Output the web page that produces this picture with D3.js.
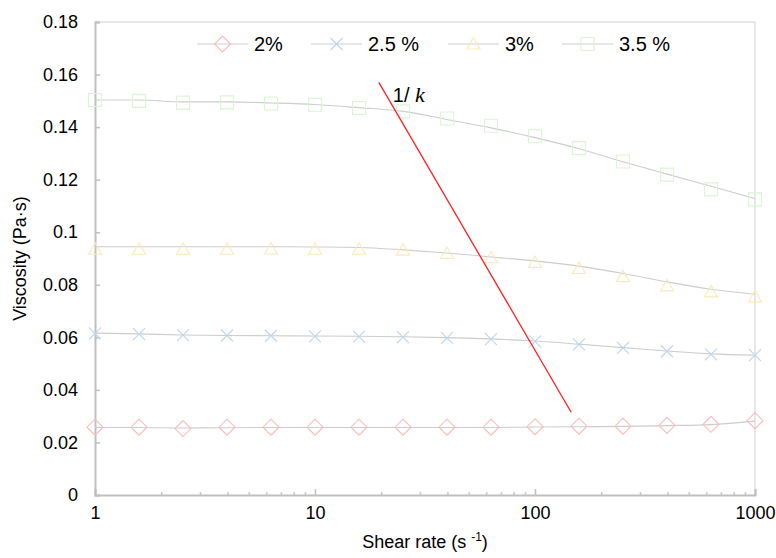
<!DOCTYPE html>
<html><head><meta charset="utf-8">
<script src="https://cdn.jsdelivr.net/npm/d3@7/dist/d3.min.js"></script>
<style>body{margin:0;background:#fff;} svg{display:block;font-family:"Liberation Sans",Arial,sans-serif;}</style>
</head><body>
<svg id="c" width="776" height="558"></svg>
<script>
const shearRate = [1,1.585,2.512,3.981,6.31,10,15.85,25.12,39.81,63.1,100,158.5,251.2,398.1,631,1000];
const seriesNames = ["2%","2.5 %","3%","3.5 %"];
const v2   = [0.0258,0.0258,0.0253,0.0258,0.0258,0.0258,0.0258,0.0258,0.0258,0.0258,0.0260,0.0262,0.0262,0.0265,0.0269,0.0283];
const v25  = [0.0615,0.0612,0.0608,0.0607,0.0606,0.0604,0.0603,0.0601,0.0598,0.0593,0.0585,0.0573,0.0560,0.0547,0.0535,0.0532];
const v3   = [0.0935,0.0935,0.0935,0.0935,0.0936,0.0935,0.0935,0.0932,0.0919,0.0903,0.0885,0.0862,0.0831,0.0796,0.0773,0.0754];
const v35  = [0.1503,0.1500,0.1493,0.1494,0.1490,0.1485,0.1473,0.1460,0.1433,0.1405,0.1365,0.1320,0.1269,0.1219,0.1163,0.1125];
const fit2  = [0.0257,0.0257,0.0255,0.0256,0.0257,0.0257,0.0257,0.0257,0.0257,0.0257,0.0259,0.0260,0.0261,0.0264,0.0268,0.0281];
const fit25 = [0.0616,0.0613,0.0609,0.0607,0.0606,0.0605,0.0604,0.0602,0.0599,0.0594,0.0586,0.0574,0.0561,0.0548,0.0537,0.0532];
const fit3  = [0.0945,0.0945,0.0945,0.0945,0.0945,0.0944,0.0942,0.0933,0.0921,0.0906,0.0891,0.0871,0.0843,0.0811,0.0783,0.0764];
const fit35 = [0.1503,0.1503,0.1496,0.1496,0.1492,0.1486,0.1474,0.1460,0.1429,0.1397,0.1360,0.1318,0.1268,0.1221,0.1175,0.1128];
const redLineX = [19.5,146];
const redLineY = [0.157,0.0315];
const yTicks = [0,0.02,0.04,0.06,0.08,0.1,0.12,0.14,0.16,0.18];
const xTicks = [1,10,100,1000];

const svg = d3.select("#c");
const L=95,R=755,T=22,B=495;
const x = d3.scaleLog().domain([1,1000]).range([L,R]);
const y = d3.scaleLinear().domain([0,0.18]).range([B,T]);

svg.append("line").attr("x1",L).attr("x2",R).attr("y1",T).attr("y2",T).attr("stroke","#e8e8e8").attr("stroke-width",2);
svg.append("line").attr("x1",R).attr("x2",R).attr("y1",T).attr("y2",B).attr("stroke","#e8e8e8").attr("stroke-width",2);

const yAxis = d3.axisLeft(y).tickValues(yTicks).tickSize(-5).tickPadding(17).tickFormat(d=>d3.format("")(+d.toFixed(2)));
const gy = svg.append("g").attr("transform",`translate(${L},0)`).call(yAxis);
gy.select(".domain").attr("stroke","#bfbfbf").attr("stroke-width",2);
gy.selectAll(".tick line").attr("stroke","#bfbfbf").attr("stroke-width",1.5);
gy.selectAll("text").attr("font-size",18).attr("fill","#000").attr("font-family","Liberation Sans, Arial");

const minor = [];
for(let d=1; d<1000; d*=10) for(let k=2;k<10;k++) minor.push(d*k);
const gxm = svg.append("g").attr("transform",`translate(0,${B})`).call(d3.axisBottom(x).tickValues(minor).tickSize(-3).tickFormat(""));
gxm.select(".domain").remove();
gxm.selectAll(".tick line").attr("stroke","#c8c8c8").attr("stroke-width",1.5);
const gx = svg.append("g").attr("transform",`translate(0,${B})`).call(d3.axisBottom(x).tickValues(xTicks).tickSize(-6).tickPadding(11).tickFormat(d3.format("")));
gx.select(".domain").attr("stroke","#bfbfbf").attr("stroke-width",2);
gx.selectAll(".tick line").attr("stroke","#bfbfbf").attr("stroke-width",1.5);
gx.selectAll("text").attr("font-size",18).attr("fill","#000").attr("font-family","Liberation Sans, Arial");

const xt = svg.append("text").attr("x",(L+R)/2).attr("y",548).attr("text-anchor","middle").attr("font-size",18).attr("fill","#000");
xt.append("tspan").text("Shear rate (s ");
xt.append("tspan").text("-1").attr("font-size",12).attr("dy",-7);
xt.append("tspan").text(")").attr("dy",7);
svg.append("text").attr("transform",`translate(26,${(T+B)/2}) rotate(-90)`).attr("text-anchor","middle").attr("font-size",18).attr("fill","#000").text("Viscosity (Pa·s)");

const colors = ["#fbbcbc","#bcd6f2","#fee9b6","#d9f5d2"];
const markerVals = [v2,v25,v3,v35];
const fitVals = [fit2,fit25,fit3,fit35];
const symbols = [
  (g)=>g.append("path").attr("d","M0,-8L8,0L0,8L-8,0Z"),
  (g)=>g.append("path").attr("d","M-6,-6L6,6M-6,6L6,-6"),
  (g)=>g.append("path").attr("d","M0,-6.5L6.5,5L-6.5,5Z"),
  (g)=>g.append("path").attr("d","M-6.5,-6.5H6.5V6.5H-6.5Z")
];
const lineGen = d3.line().x(d=>x(d[0])).y(d=>y(d[1])).curve(d3.curveMonotoneX);

fitVals.forEach((vals,i)=>{
  svg.append("path").datum(shearRate.map((s,j)=>[s,vals[j]])).attr("d",lineGen).attr("fill","none").attr("stroke","#cdcdcd").attr("stroke-width",1.1);
});
markerVals.forEach((vals,i)=>{
  shearRate.forEach((s,j)=>{
    const g = svg.append("g").attr("transform",`translate(${x(s)},${y(vals[j])})`);
    symbols[i](g).attr("fill","none").attr("stroke",colors[i]).attr("stroke-width",1.1);
  });
});

svg.append("path").datum(redLineX.map((s,j)=>[s,redLineY[j]])).attr("d",d3.line().x(d=>x(d[0])).y(d=>y(d[1]))).attr("stroke","#ff2020").attr("stroke-width",1.3).attr("fill","none");
const lab = svg.append("text").attr("x",x(redLineX[0])+14).attr("y",y(redLineY[0])+20).attr("font-size",20).attr("fill","#000");
lab.append("tspan").text("1/ ").attr("font-family","Liberation Sans, Arial");
lab.append("tspan").text("k").attr("font-family","Liberation Serif, Times New Roman").attr("font-style","italic").attr("font-size",22);

const legX = [197,311,448,562];
seriesNames.forEach((n,i)=>{
  const lx = legX[i], ly = 44;
  svg.append("line").attr("x1",lx).attr("x2",lx+51).attr("y1",ly).attr("y2",ly).attr("stroke","#cdcdcd").attr("stroke-width",1.1);
  const g = svg.append("g").attr("transform",`translate(${lx+25.5},${ly})`);
  symbols[i](g).attr("fill","none").attr("stroke",colors[i]).attr("stroke-width",1.1);
  svg.append("text").attr("x",lx+57).attr("y",ly+7).attr("font-size",20).attr("fill","#000").text(n);
});
</script>
</body></html>
